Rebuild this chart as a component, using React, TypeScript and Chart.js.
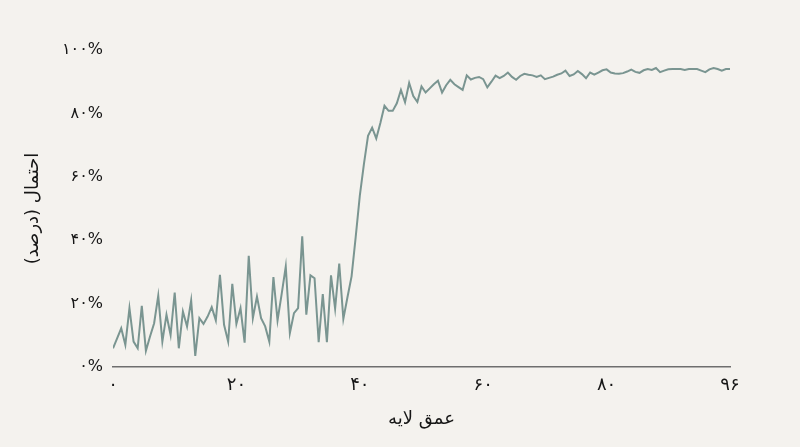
import React, { useEffect, useRef } from "react";
import { Chart, registerables } from "chart.js";

Chart.register(...registerables);

// Probability (%) sampled evenly along relative layer depth
const probability: number[] = [
  5.9, 9.0, 12.2, 7.0, 18.6, 8.0, 5.9, 19.3, 5.1, 9.6,
  13.8, 22.5, 8.0, 16.5, 10.1, 23.5, 5.9, 17.5, 12.8, 21.0,
  3.5, 15.4, 13.6, 15.9, 18.9, 14.7, 29.1, 13.3, 8.0, 26.2,
  13.6, 18.6, 7.7, 35.1, 15.4, 22.2, 15.4, 12.8, 8.0, 28.4,
  14.7, 23.0, 31.7, 10.7, 17.0, 18.6, 41.2, 16.5, 28.9, 28.0,
  7.8, 23.0, 7.8, 28.9, 18.4, 32.6, 15.2, 22.0, 28.6, 41.0,
  54.0, 64.0, 72.9, 75.5, 72.1, 77.0, 82.4, 80.8, 80.8, 83.2,
  87.4, 83.5, 89.6, 85.5, 83.6, 88.5, 86.6, 87.9, 89.2, 90.3,
  86.6, 88.9, 90.6, 89.2, 88.3, 87.4, 92.0, 90.7, 91.2, 91.5,
  90.8, 88.2, 90.0, 91.9, 91.1, 91.8, 92.9, 91.5, 90.6, 91.8,
  92.5, 92.2, 92.0, 91.5, 92.0, 90.8, 91.2, 91.6, 92.2, 92.6,
  93.5, 91.8, 92.3, 93.4, 92.4, 91.1, 92.9, 92.2, 92.9, 93.6,
  93.9, 92.9, 92.6, 92.5, 92.7, 93.2, 93.8, 93.1, 92.8, 93.6,
  94.0, 93.7, 94.3, 93.0, 93.5, 93.9, 94.0, 94.0, 94.0, 93.7,
  94.0, 94.0, 94.0, 93.5, 93.0, 93.9, 94.3, 94.0, 93.5, 94.0,
  94.0,
];

const xTickValues = [0, 20, 40, 60, 80, 100];
const xTickLabels = ["۰", "۲۰", "۴۰", "۶۰", "۸۰", "۹۶"];
const yTickValues = [0, 20, 40, 60, 80, 100];
const yTickLabels = ["۰%", "۲۰%", "۴۰%", "۶۰%", "۸۰%", "۱۰۰%"];
const xTitle = "عمق لایه";
const yTitle = "احتمال (درصد)\u200F";

const BG = "#f4f2ee";
const LINE = "#7a9591";
const TEXT = "#161616";
const FONT = "'DejaVu Sans', sans-serif";

export default function App() {
  const ref = useRef<HTMLCanvasElement | null>(null);

  useEffect(() => {
    if (!ref.current) return;
    const n = probability.length;
    const points = probability.map((v, i) => ({ x: (i * 100) / (n - 1), y: v }));
    const chart = new Chart(ref.current, {
      type: "line",
      data: {
        datasets: [
          {
            data: points,
            borderColor: LINE,
            borderWidth: 2,
            pointRadius: 0,
            tension: 0,
            fill: false,
          },
        ],
      },
      options: {
        animation: false,
        responsive: false,
        maintainAspectRatio: false,
        layout: { padding: { left: 0, right: 70, top: 50, bottom: 0 } },
        plugins: { legend: { display: false }, tooltip: { enabled: false } },
        scales: {
          x: {
            type: "linear",
            min: 0,
            max: 100,
            afterBuildTicks: (s: any) => {
              s.ticks = xTickValues.map((v) => ({ value: v }));
            },
            afterFit: (s: any) => {
              s.height = 80;
            },
            grid: { display: false, drawTicks: false },
            border: { display: true, color: "#6e6e6e", width: 1.5 },
            ticks: {
              padding: 8,
              color: TEXT,
              font: { family: FONT, size: 18 },
              maxRotation: 0,
              callback: (_v: any, i: number) => xTickLabels[i],
            },
            title: {
              display: true,
              text: xTitle,
              color: TEXT,
              font: { family: FONT, size: 18 },
              padding: { top: 17, bottom: 17 },
            },
          },
          y: {
            type: "linear",
            min: 0,
            max: 100,
            afterBuildTicks: (s: any) => {
              s.ticks = yTickValues.map((v) => ({ value: v }));
            },
            afterFit: (s: any) => {
              s.width = 113;
            },
            grid: { display: false, drawTicks: false },
            border: { display: false },
            ticks: {
              padding: 10,
              color: TEXT,
              font: { family: FONT, size: 16 },
              callback: (_v: any, i: number) => yTickLabels[i],
            },
            title: {
              display: true,
              text: yTitle,
              color: TEXT,
              font: { family: FONT, size: 18 },
              padding: { top: 23, bottom: 23 },
            },
          },
        },
      },
    });
    return () => chart.destroy();
  }, []);

  return (
    <div
      style={{
        position: "fixed",
        left: 0,
        top: 0,
        width: 800,
        height: 447,
        background: BG,
      }}
    >
      <canvas ref={ref} width={800} height={447} style={{ width: 800, height: 447, display: "block" }} />
    </div>
  );
}
